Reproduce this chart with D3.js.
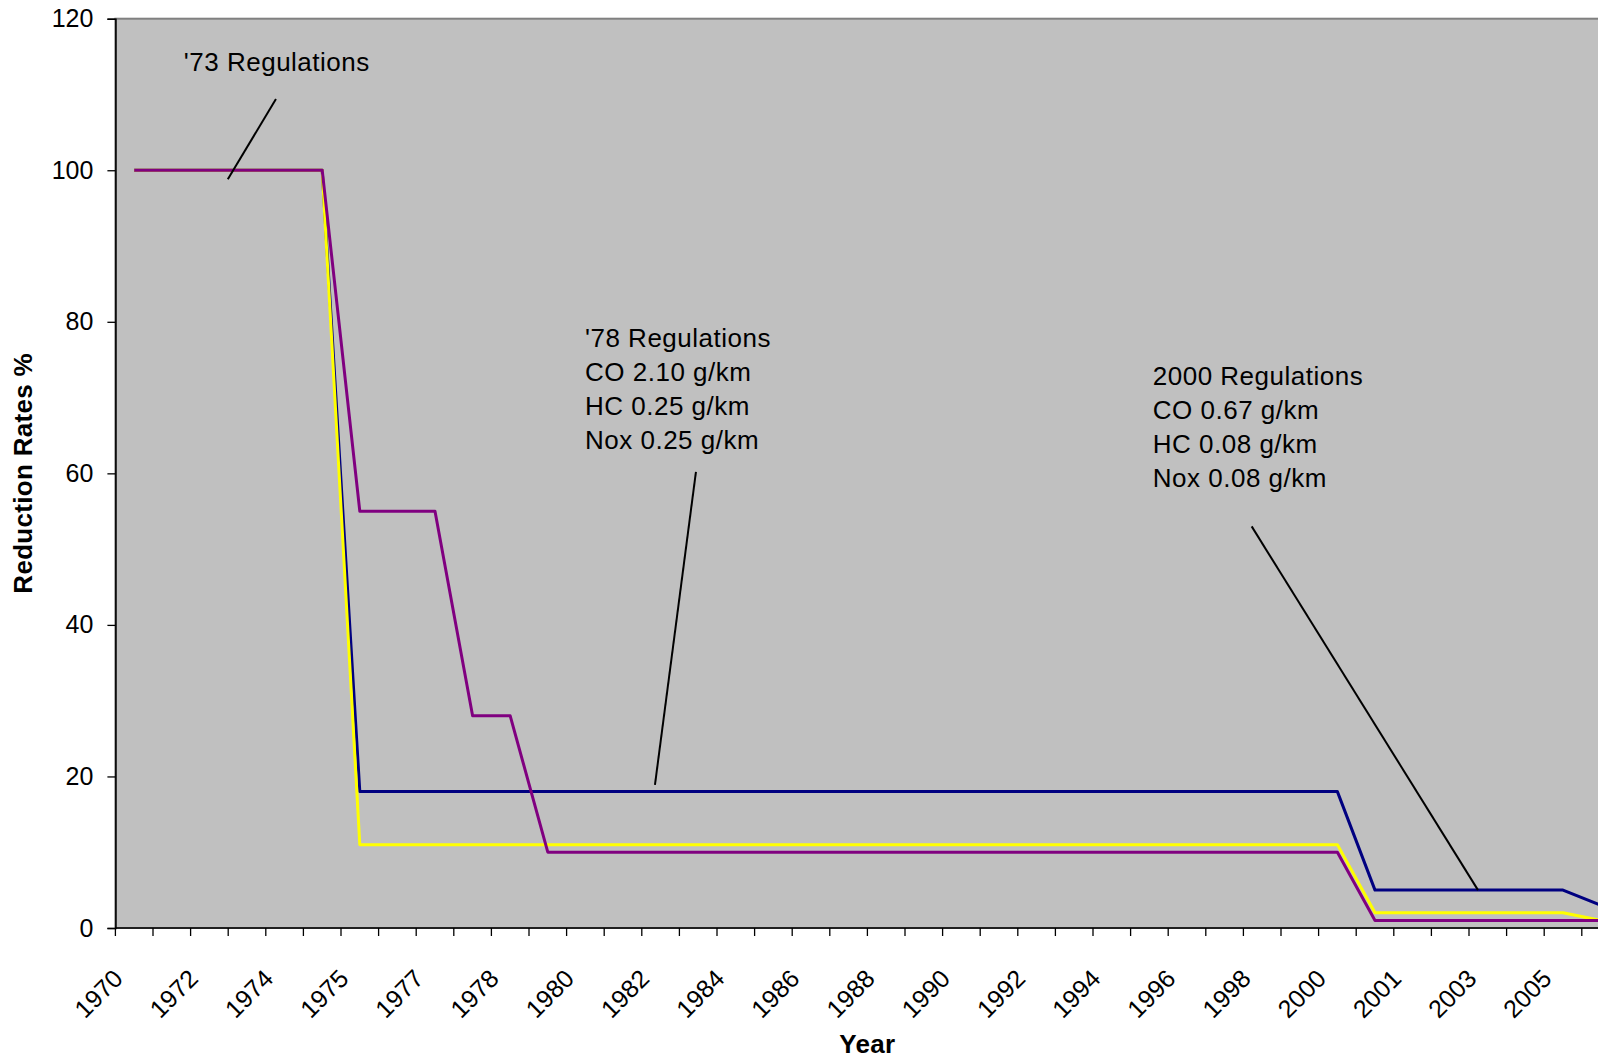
<!DOCTYPE html>
<html>
<head>
<meta charset="utf-8">
<script src="https://cdn.jsdelivr.net/npm/d3@7"></script>
<style>
  html, body { margin: 0; padding: 0; background: #ffffff; overflow: hidden; }
  svg { display: block; }
  text { font-family: "Liberation Sans", Arial, Helvetica, sans-serif; fill: #000; }
</style>
</head>
<body>
<svg id="chart" width="1598" height="1059"></svg>
<script>
// Year categories along the x axis (step years appear twice)
const years = [
  "1970", "1971", "1972", "1973", "1974", "1975", "1975", "1976", "1977", "1978",
  "1978", "1979", "1980", "1981", "1982", "1983", "1984", "1985", "1986", "1987",
  "1988", "1989", "1990", "1991", "1992", "1993", "1994", "1995", "1996", "1997",
  "1998", "1999", "2000", "2000", "2001", "2002", "2003", "2004", "2005", "2006"
];

// Reduction rate (%) of each pollutant relative to the 1970 level
const hcRates = [
  100, 100, 100, 100, 100, 100, 18, 18, 18, 18,
  18, 18, 18, 18, 18, 18, 18, 18, 18, 18,
  18, 18, 18, 18, 18, 18, 18, 18, 18, 18,
  18, 18, 18, 5, 5, 5, 5, 5, 5, 3
];
const coRates = [
  100, 100, 100, 100, 100, 100, 11, 11, 11, 11,
  11, 11, 11, 11, 11, 11, 11, 11, 11, 11,
  11, 11, 11, 11, 11, 11, 11, 11, 11, 11,
  11, 11, 11, 2, 2, 2, 2, 2, 2, 1
];
const noxRates = [
  100, 100, 100, 100, 100, 100, 55, 55, 55, 28,
  28, 10, 10, 10, 10, 10, 10, 10, 10, 10,
  10, 10, 10, 10, 10, 10, 10, 10, 10, 10,
  10, 10, 10, 1, 1, 1, 1, 1, 1, 1
];

const yTicks = [0, 20, 40, 60, 80, 100, 120];

const seriesNames = ["HC", "CO", "NOx"];
const seriesColors = ["#000080", "#FFFF00", "#800080"];

// Callouts: text block anchored at (category index, value), leader line between two (index, value) points
const callouts = [
  { lines: ["'73 Regulations"], at: [1.32, 113.1], from: [3.77, 109.4], to: [2.49, 98.8] },
  { lines: ["'78 Regulations", "CO 2.10 g/km", "HC 0.25 g/km", "Nox 0.25 g/km"],
    at: [11.99, 76.7], from: [14.94, 60.2], to: [13.85, 18.9] },
  { lines: ["2000 Regulations", "CO 0.67 g/km", "HC 0.08 g/km", "Nox 0.08 g/km"],
    at: [27.09, 71.65], from: [29.72, 53.0], to: [35.74, 5.0] }
];

// ---- layout ----
const margin = { left: 115.4, top: 18.7 };
const plotW = 1504;
const plotH = 909.3;

const svg = d3.select("#chart");
const g = svg.append("g").attr("transform", `translate(${margin.left},${margin.top})`);

const x = d3.scaleBand().domain(d3.range(years.length)).range([0, plotW]).padding(0);
const step = x.bandwidth();
const xc = i => x(i) + step / 2;
const xAt = idx => x(0) + step / 2 + idx * step;   // fractional category position
const y = d3.scaleLinear().domain([0, 120]).range([plotH, 0]);

// plot background
g.append("rect")
  .attr("x", 0).attr("y", 0)
  .attr("width", plotW).attr("height", plotH)
  .attr("fill", "#C0C0C0")
  .attr("stroke", "#808080")
  .attr("stroke-width", 2);

// series lines
const series = [hcRates, coRates, noxRates];
const line = d3.line().x((d, i) => xc(i)).y(d => y(d));
g.selectAll("path.series")
  .data(series)
  .join("path")
  .attr("class", "series")
  .attr("data-name", (d, i) => seriesNames[i])
  .attr("d", line)
  .attr("fill", "none")
  .attr("stroke", (d, i) => seriesColors[i])
  .attr("stroke-width", 3)
  .attr("stroke-linejoin", "round");

// callouts
callouts.forEach(c => {
  g.append("line")
    .attr("x1", xAt(c.from[0])).attr("y1", y(c.from[1]))
    .attr("x2", xAt(c.to[0])).attr("y2", y(c.to[1]))
    .attr("stroke", "#000").attr("stroke-width", 2);
  const t = g.append("text")
    .attr("x", xAt(c.at[0])).attr("y", y(c.at[1]))
    .attr("font-size", 26)
    .attr("letter-spacing", 0.5);
  c.lines.forEach((s, k) => {
    t.append("tspan").attr("x", xAt(c.at[0])).attr("dy", k === 0 ? 0 : 34).text(s);
  });
});

// y axis
const yAxis = g.append("g")
  .call(d3.axisLeft(y).tickValues(yTicks).tickSize(8).tickPadding(14));
yAxis.select(".domain").attr("stroke", "#000").attr("stroke-width", 1.6);
yAxis.selectAll(".tick line").attr("stroke", "#000").attr("stroke-width", 1.3);
yAxis.selectAll(".tick text")
  .attr("font-size", 25)
  .attr("font-family", "'Liberation Sans', Arial, sans-serif")
  .attr("fill", "#000");

// x axis: ticks on category boundaries, labels on every second category
const xAxisG = g.append("g").attr("transform", `translate(0,${plotH})`);
xAxisG.append("line")
  .attr("x1", 0).attr("x2", plotW).attr("y1", 0).attr("y2", 0)
  .attr("stroke", "#000").attr("stroke-width", 1.6);
xAxisG.selectAll("line.tk")
  .data(d3.range(years.length + 1))
  .join("line")
  .attr("class", "tk")
  .attr("x1", i => i * step).attr("x2", i => i * step)
  .attr("y1", 0).attr("y2", 8)
  .attr("stroke", "#000").attr("stroke-width", 1.3);
xAxisG.selectAll("text.xl")
  .data(d3.range(0, years.length, 2))
  .join("text")
  .attr("class", "xl")
  .attr("transform", i => `translate(${xc(i) - 16},${46}) rotate(-45)`)
  .attr("text-anchor", "end")
  .attr("dy", "0.35em")
  .attr("font-size", 25)
  .text(i => years[i]);

// axis titles
g.append("text")
  .attr("x", plotW / 2).attr("y", 1053 - margin.top)
  .attr("text-anchor", "middle")
  .attr("font-size", 26).attr("font-weight", "bold")
  .attr("letter-spacing", 0.3)
  .text("Year");

svg.append("text")
  .attr("transform", `translate(32,${margin.top + plotH / 2}) rotate(-90)`)
  .attr("text-anchor", "middle")
  .attr("font-size", 26).attr("font-weight", "bold")
  .attr("letter-spacing", 0.3)
  .text("Reduction Rates %");
</script>
</body>
</html>
